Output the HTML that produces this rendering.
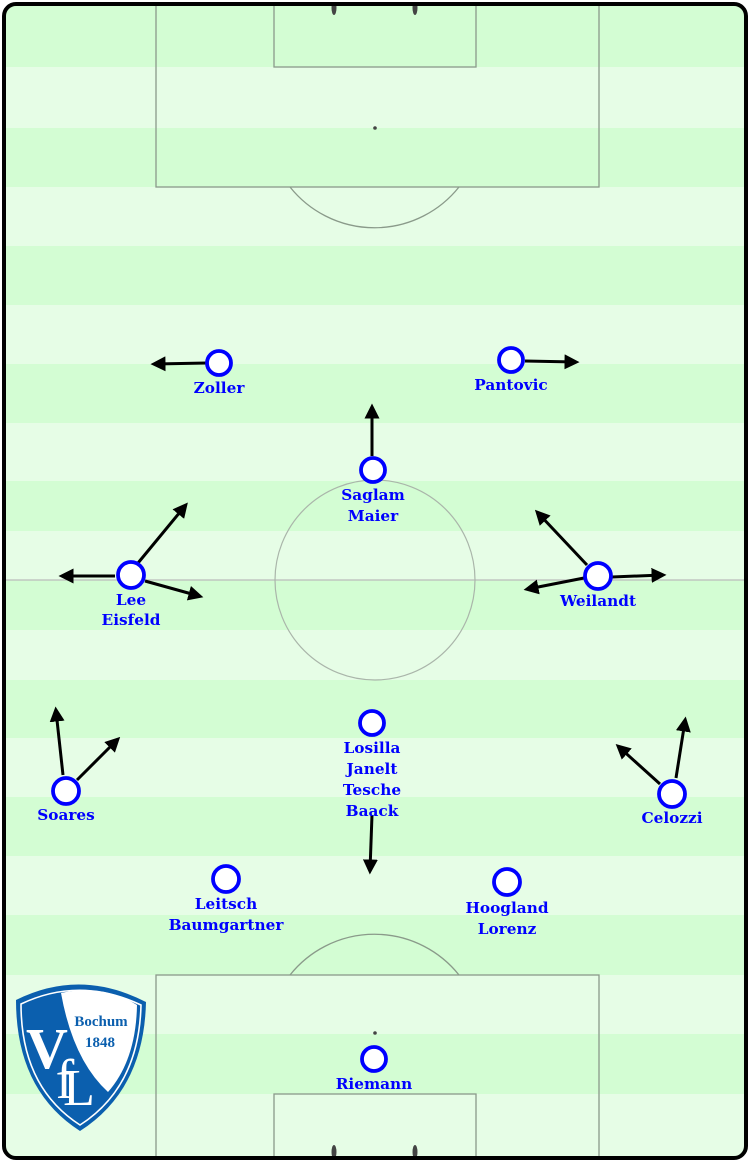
<!DOCTYPE html>
<html><head><meta charset="utf-8"><style>
html,body{margin:0;padding:0;background:#fff;}
svg{display:block;}
text.l{font-family:"DejaVu Serif","Liberation Serif",serif;font-weight:bold;font-size:15.3px;fill:#0000ff;text-anchor:middle;}
</style></head><body>
<svg width="750" height="1162" viewBox="0 0 750 1162" xmlns="http://www.w3.org/2000/svg">
<defs>
<marker id="ah" markerWidth="5" markerHeight="5" refX="3.5" refY="2.5" orient="auto" markerUnits="strokeWidth">
<path d="M0,0 L5,2.5 L0,5 z" fill="#000"/>
</marker>
<clipPath id="cp"><rect x="4" y="4" width="742" height="1154" rx="12"/></clipPath>
</defs>
<g clip-path="url(#cp)">
<rect x="0" y="0" width="750" height="1162" fill="#e6fde6"/>
<g fill="#d3fdd3">
<rect x="0" y="0" width="750" height="67"/>
<rect x="0" y="128" width="750" height="59"/>
<rect x="0" y="246" width="750" height="59"/>
<rect x="0" y="364" width="750" height="59"/>
<rect x="0" y="481" width="750" height="50"/>
<rect x="0" y="580" width="750" height="50"/>
<rect x="0" y="680" width="750" height="58"/>
<rect x="0" y="797" width="750" height="59"/>
<rect x="0" y="915" width="750" height="60"/>
<rect x="0" y="1034" width="750" height="60"/>
</g>
<g fill="none" stroke="#8a9a8a" stroke-width="1.3">
<rect x="156" y="-5" width="443" height="192"/>
<rect x="274" y="-5" width="202" height="72"/>
<path d="M290,187 A108,108 0 0 0 459,187"/>
<rect x="156" y="975" width="443" height="200"/>
<rect x="274" y="1094" width="202" height="80"/>
<path d="M290,975 A108,108 0 0 1 459,975"/>
</g>
<line x1="0" y1="580" x2="750" y2="580" stroke="#bbbbbb" stroke-width="1.2"/>
<circle cx="375" cy="580" r="100" fill="none" stroke="#aab5aa" stroke-width="1.2"/>
<circle cx="375" cy="128" r="1.8" fill="#444"/>
<circle cx="375" cy="1033" r="1.8" fill="#444"/>
<g fill="#444">
<ellipse cx="334" cy="8" rx="2.5" ry="7"/><ellipse cx="415" cy="8" rx="2.5" ry="7"/>
<ellipse cx="334" cy="1152" rx="2.5" ry="7"/><ellipse cx="415" cy="1152" rx="2.5" ry="7"/>
</g>
</g>
<rect x="4" y="4" width="742" height="1154" rx="12" fill="none" stroke="#000" stroke-width="4"/>

<g stroke="#000" stroke-width="3" marker-end="url(#ah)">
<line x1="207" y1="363" x2="155" y2="364"/>
<line x1="525" y1="361" x2="575" y2="362"/>
<line x1="372" y1="456" x2="372" y2="408"/>
<line x1="115" y1="576" x2="63" y2="576"/>
<line x1="138" y1="563" x2="185" y2="506"/>
<line x1="145" y1="581" x2="199" y2="596"/>
<line x1="584" y1="578" x2="528" y2="589"/>
<line x1="587" y1="565" x2="538" y2="513"/>
<line x1="612" y1="577" x2="662" y2="575"/>
<line x1="63" y1="775" x2="56" y2="711"/>
<line x1="77" y1="780" x2="117" y2="740"/>
<line x1="676" y1="778" x2="685" y2="721"/>
<line x1="660" y1="784" x2="619" y2="747"/>
<line x1="372" y1="815" x2="370" y2="870"/>
</g>

<g fill="#fff" stroke="#0000ff" stroke-width="3.8">
<circle cx="219" cy="363" r="12"/>
<circle cx="511" cy="360" r="12"/>
<circle cx="373" cy="470" r="12"/>
<circle cx="131" cy="575" r="13"/>
<circle cx="598" cy="576" r="13"/>
<circle cx="66" cy="791" r="13"/>
<circle cx="372" cy="723" r="12"/>
<circle cx="672" cy="794" r="13"/>
<circle cx="226" cy="879" r="13"/>
<circle cx="507" cy="882" r="13"/>
<circle cx="374" cy="1059" r="12"/>
</g>

<text class="l" x="219" y="393">Zoller</text>
<text class="l" x="511" y="390">Pantovic</text>
<text class="l" x="373" y="500">Saglam</text>
<text class="l" x="373" y="521">Maier</text>
<text class="l" x="131" y="605">Lee</text>
<text class="l" x="131" y="625">Eisfeld</text>
<text class="l" x="598" y="606">Weilandt</text>
<text class="l" x="66" y="820">Soares</text>
<text class="l" x="372" y="753">Losilla</text>
<text class="l" x="372" y="774">Janelt</text>
<text class="l" x="372" y="795">Tesche</text>
<text class="l" x="372" y="816">Baack</text>
<text class="l" x="672" y="823">Celozzi</text>
<text class="l" x="226" y="909">Leitsch</text>
<text class="l" x="226" y="930">Baumgartner</text>
<text class="l" x="507" y="913">Hoogland</text>
<text class="l" x="507" y="934">Lorenz</text>
<text class="l" x="374" y="1089">Riemann</text>

<g>
<path d="M16,1000 Q80,968 146,1002 Q144,1090 80,1131 Q16,1090 16,1000 z" fill="#0b5fae"/>
<path d="M21,1004 Q80,976 141,1005 Q139,1087 80,1125 Q21,1087 21,1004 z" fill="none" stroke="#fff" stroke-width="1.6"/>
<path d="M61,993 Q103,984 137,1005 Q136,1060 108,1092 Q73,1060 61,993 z" fill="#fff"/>
<text x="101" y="1026" font-family="Liberation Serif,serif" font-weight="bold" font-size="15" fill="#0b5fae" text-anchor="middle">Bochum</text>
<text x="100" y="1047" font-family="Liberation Serif,serif" font-weight="bold" font-size="15" fill="#0b5fae" text-anchor="middle">1848</text>
<text x="47" y="1068" font-family="Liberation Serif,serif" font-weight="bold" font-size="58" fill="#fff" text-anchor="middle">V</text>
<text x="65" y="1098" font-family="Liberation Serif,serif" font-size="56" fill="#fff" text-anchor="middle">f</text>
<text x="79" y="1105" font-family="Liberation Serif,serif" font-size="52" fill="#fff" text-anchor="middle">L</text>
</g>
</svg>
</body></html>
